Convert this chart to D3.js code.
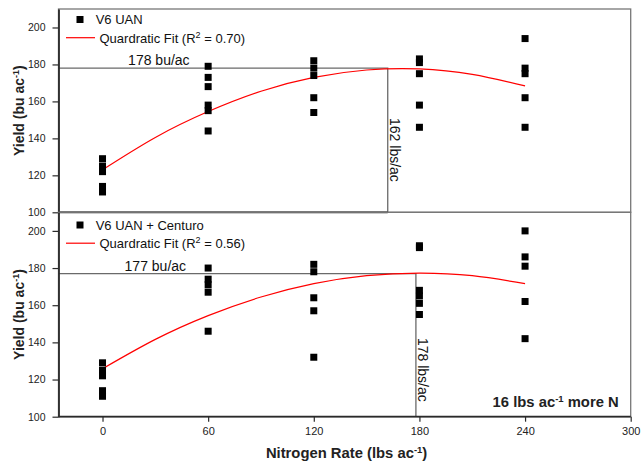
<!DOCTYPE html>
<html>
<head>
<meta charset="utf-8">
<script src="https://cdn.jsdelivr.net/npm/d3@7"></script>
<style>
body { margin: 0; background: #fff; }
svg { display: block; font-family: "Liberation Sans", Arial, sans-serif; }
</style>
</head>
<body>
<svg></svg>
<script>
let rates = [0, 60, 120, 180, 240];
let uanYield = [
        [129, 125, 122, 114, 111],
        [179, 173, 168, 158, 155, 144],
        [182, 178, 174, 162, 154],
        [183, 181, 175, 158, 146],
        [194, 178, 175, 162, 146]
];
let centuroYield = [
        [129, 125, 122, 114, 111],
        [180, 174, 171, 167, 146],
        [182, 178, 164, 157, 132],
        [192, 191, 168, 165, 161, 155],
        [200, 186, 181, 162, 142]
];
let fitRates = [0, 30, 60, 90, 120, 150, 180, 210, 240];
let uanFit = [123, 140.5, 154.5, 165.5, 173, 177, 177.6, 174.6, 168.4];
let centuroFit = [125.8, 141.6, 154.4, 164.4, 171.6, 175.9, 177.3, 175.9, 171.6];
let seriesNames = ['V6 UAN', 'V6 UAN + Centuro'];
let r2Values = ['0.70', '0.56'];
let maxYields = [178, 177];
let optRates = [162, 178];
let yTicks = [100, 120, 140, 160, 180, 200];
let xTicks = [0, 60, 120, 180, 240, 300];

let width = 641;
let height = 467;
let left = 58.5;
let right = 630.7;

let svg = d3.select('svg')
        .attr('width', width)
        .attr('height', height);

let xScale = d3.scaleLinear()
        .domain([-25, 300])
        .range([left, right]);

let panels = [
        {top: 9, bottom: 212.3, yields: uanYield, fit: uanFit, legendY: 19.5, labelX: 32, rateLabelY: 151},
        {top: 212.3, bottom: 416.7, yields: centuroYield, fit: centuroFit, legendY: 225, labelX: 30, rateLabelY: 142.4}
];

panels.forEach((p, i) => {
        let yScale = d3.scaleLinear()
                .domain([100, 210])
                .range([p.bottom, p.top]);

        let g = svg.append('g');

        g.append('rect')
                .attr('x', left)
                .attr('y', p.top)
                .attr('width', right - left)
                .attr('height', p.bottom - p.top)
                .attr('fill', 'none')
                .attr('stroke', '#777')
                .attr('stroke-width', 1.3);

        // optimum rate / max yield lines
        g.append('path')
                .attr('d', d3.line()([
                        [xScale(-25), yScale(maxYields[i])],
                        [xScale(optRates[i]), yScale(maxYields[i])],
                        [xScale(optRates[i]), yScale(100)]
                ]))
                .attr('fill', 'none')
                .attr('stroke', '#6a6a6a')
                .attr('stroke-width', 1.3);

        g.append('line')
                .attr('x1', xScale(-25))
                .attr('x2', i == 0 ? xScale(optRates[i]) : right)
                .attr('y1', p.bottom)
                .attr('y2', p.bottom)
                .attr('stroke', '#2a2a2a')
                .attr('stroke-width', 1.8);

        g.append('text')
                .attr('x', xScale(p.labelX))
                .attr('y', yScale(maxYields[i]) - 3)
                .style('text-anchor', 'middle')
                .style('font-size', '14px')
                .attr('fill', '#111')
                .text(maxYields[i] + ' bu/ac');

        g.append('text')
                .attr('transform', 'translate(' + (xScale(optRates[i]) + 2.5) + ',' + yScale(p.rateLabelY) + ') rotate(90)')
                .style('font-size', '14px')
                .attr('fill', '#111')
                .text(optRates[i] + ' lbs/ac');

        let fitLine = d3.line()
                .x((d, j) => xScale(fitRates[j]))
                .y(d => yScale(d))
                .curve(d3.curveNatural);

        g.append('path')
                .attr('d', fitLine(p.fit))
                .attr('fill', 'none')
                .attr('stroke', '#ff0000')
                .attr('stroke-width', 1.2);

        let points = [];
        p.yields.forEach((vals, j) => vals.forEach(v => points.push([rates[j], v])));

        g.selectAll('.pt')
                .data(points)
                .enter()
                .append('rect')
                .attr('x', d => xScale(d[0]) - 3.5)
                .attr('y', d => yScale(d[1]) - 3.5)
                .attr('width', 7)
                .attr('height', 7)
                .attr('fill', '#000');

        // legend
        g.append('rect')
                .attr('x', 80 - 3.5)
                .attr('y', p.legendY - 3.5)
                .attr('width', 7)
                .attr('height', 7)
                .attr('fill', '#000');

        g.append('text')
                .attr('x', 95.7)
                .attr('y', p.legendY + 4.5)
                .style('font-size', '13px')
                .attr('fill', '#111')
                .text(seriesNames[i]);

        g.append('line')
                .attr('x1', 66)
                .attr('x2', 95)
                .attr('y1', p.legendY + 18.2)
                .attr('y2', p.legendY + 18.2)
                .attr('stroke', '#ff0000')
                .attr('stroke-width', 1.2);

        let fitText = g.append('text')
                .attr('x', 99.5)
                .attr('y', p.legendY + 23.2)
                .style('font-size', '13px')
                .attr('fill', '#111');
        fitText.append('tspan').text('Quardratic Fit (R');
        fitText.append('tspan').attr('dy', -5).style('font-size', '9px').text('2');
        fitText.append('tspan').attr('dy', 5).text(' = ' + r2Values[i] + ')');

        let yAxis = d3.axisLeft(yScale)
                .tickValues(yTicks)
                .tickSize(6)
                .tickSizeOuter(0)
                .tickPadding(7);

        let ay = g.append('g')
                .attr('transform', 'translate(' + left + ',0)')
                .call(yAxis);
        ay.select('.domain').attr('stroke', '#2a2a2a').attr('stroke-width', 1.8);
        ay.selectAll('.tick line').attr('stroke', '#2a2a2a').attr('stroke-width', 1.2);
        ay.selectAll('.tick text').style('font-size', '10.5px').attr('fill', '#222').style('font-family', 'Liberation Sans, Arial, sans-serif');

        let yLabel = g.append('text')
                .attr('transform', 'translate(24,' + (p.top + p.bottom) / 2 + ') rotate(-90)')
                .style('text-anchor', 'middle')
                .style('font-size', '14px')
                .style('font-weight', 'bold')
                .attr('fill', '#222');
        yLabel.append('tspan').text('Yield (bu ac');
        yLabel.append('tspan').attr('dy', -5).style('font-size', '9px').text('-1');
        yLabel.append('tspan').attr('dy', 5).text(')');
});

let bottomY = panels[1].bottom;

let xAxis = d3.axisBottom(xScale)
        .tickValues(xTicks)
        .tickSize(5)
        .tickSizeOuter(0)
        .tickPadding(6);

let ax = svg.append('g')
        .attr('transform', 'translate(0,' + bottomY + ')')
        .call(xAxis);
ax.select('.domain').remove();
ax.selectAll('.tick line').attr('stroke', '#2a2a2a').attr('stroke-width', 1.2);
ax.selectAll('.tick text').style('font-size', '11px').attr('fill', '#222').style('font-family', 'Liberation Sans, Arial, sans-serif');

let xLabel = svg.append('text')
        .attr('x', (left + right) / 2 + 2)
        .attr('y', 458)
        .style('text-anchor', 'middle')
        .style('font-size', '14.8px')
        .style('font-weight', 'bold')
        .attr('fill', '#222');
xLabel.append('tspan').text('Nitrogen Rate (lbs ac');
xLabel.append('tspan').attr('dy', -5).style('font-size', '9.5px').text('-1');
xLabel.append('tspan').attr('dy', 5).text(')');

let note = svg.append('text')
        .attr('x', right - 12)
        .attr('y', bottomY - 10)
        .style('text-anchor', 'end')
        .style('font-size', '14.8px')
        .style('font-weight', 'bold')
        .attr('fill', '#222');
note.append('tspan').text('16 lbs ac');
note.append('tspan').attr('dy', -5).style('font-size', '9.5px').text('-1');
note.append('tspan').attr('dy', 5).text(' more N');
</script>
</body>
</html>
